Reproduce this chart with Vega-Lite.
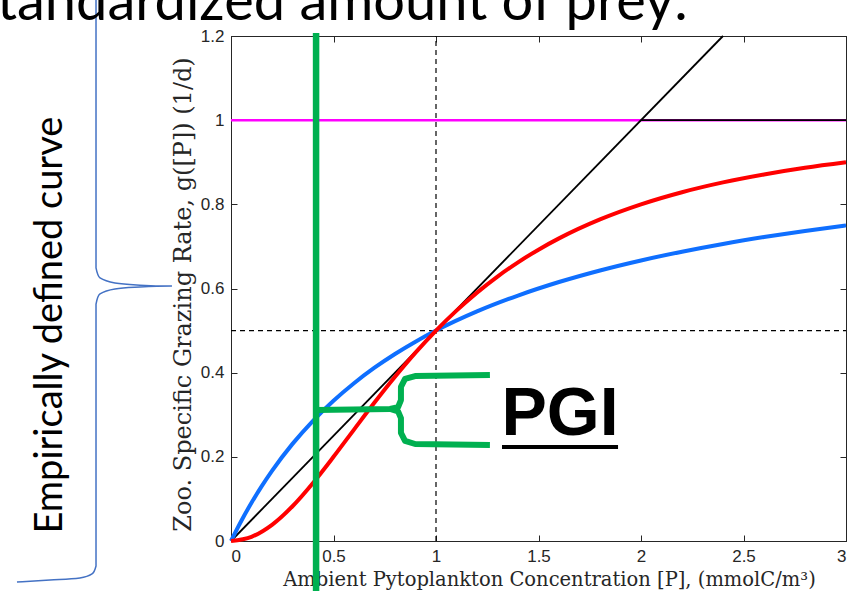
{
  "$schema": "https://vega.github.io/schema/vega-lite/v6.json",
  "width": 615,
  "height": 505,
  "autosize": {"type": "none"},
  "padding": {"left": 231, "top": 36, "right": 12, "bottom": 50},
  "background": "white",
  "config": {
    "view": {"stroke": "#262626", "strokeWidth": 1},
    "axis": {
      "grid": false,
      "domainColor": "#262626",
      "tickColor": "#262626",
      "labelColor": "#262626",
      "labelFont": "Liberation Sans",
      "labelFontSize": 17,
      "tickSize": -6,
      "labelPadding": 13,
      "titleFont": "DejaVu Serif",
      "titleFontWeight": "normal",
      "titleColor": "#262626",
      "titleFontSize": 20
    }
  },
  "resolve": {"axis": {"x": "independent", "y": "independent"}},
  "datasets": {
    "curves": [
      {"s": "mm", "P": 0, "g": 0},
      {"s": "mm", "P": 0.05, "g": 0.0476},
      {"s": "mm", "P": 0.1, "g": 0.0909},
      {"s": "mm", "P": 0.15, "g": 0.1304},
      {"s": "mm", "P": 0.2, "g": 0.1667},
      {"s": "mm", "P": 0.3, "g": 0.2308},
      {"s": "mm", "P": 0.4, "g": 0.2857},
      {"s": "mm", "P": 0.5, "g": 0.3333},
      {"s": "mm", "P": 0.6, "g": 0.375},
      {"s": "mm", "P": 0.7, "g": 0.4118},
      {"s": "mm", "P": 0.8, "g": 0.4444},
      {"s": "mm", "P": 0.9, "g": 0.4737},
      {"s": "mm", "P": 1.0, "g": 0.5},
      {"s": "mm", "P": 1.2, "g": 0.5455},
      {"s": "mm", "P": 1.4, "g": 0.5833},
      {"s": "mm", "P": 1.6, "g": 0.6154},
      {"s": "mm", "P": 1.8, "g": 0.6429},
      {"s": "mm", "P": 2.0, "g": 0.6667},
      {"s": "mm", "P": 2.2, "g": 0.6875},
      {"s": "mm", "P": 2.4, "g": 0.7059},
      {"s": "mm", "P": 2.6, "g": 0.7222},
      {"s": "mm", "P": 2.8, "g": 0.7368},
      {"s": "mm", "P": 3.0, "g": 0.75},
      {"s": "h3", "P": 0, "g": 0},
      {"s": "h3", "P": 0.1, "g": 0.0099},
      {"s": "h3", "P": 0.2, "g": 0.0385},
      {"s": "h3", "P": 0.3, "g": 0.0826},
      {"s": "h3", "P": 0.4, "g": 0.1379},
      {"s": "h3", "P": 0.5, "g": 0.2},
      {"s": "h3", "P": 0.6, "g": 0.2647},
      {"s": "h3", "P": 0.7, "g": 0.3289},
      {"s": "h3", "P": 0.8, "g": 0.3902},
      {"s": "h3", "P": 0.9, "g": 0.4475},
      {"s": "h3", "P": 1.0, "g": 0.5},
      {"s": "h3", "P": 1.1, "g": 0.5475},
      {"s": "h3", "P": 1.2, "g": 0.5902},
      {"s": "h3", "P": 1.3, "g": 0.6283},
      {"s": "h3", "P": 1.4, "g": 0.6622},
      {"s": "h3", "P": 1.5, "g": 0.6923},
      {"s": "h3", "P": 1.6, "g": 0.7191},
      {"s": "h3", "P": 1.8, "g": 0.7642},
      {"s": "h3", "P": 2.0, "g": 0.8},
      {"s": "h3", "P": 2.2, "g": 0.8288},
      {"s": "h3", "P": 2.4, "g": 0.8521},
      {"s": "h3", "P": 2.6, "g": 0.8711},
      {"s": "h3", "P": 2.8, "g": 0.8869},
      {"s": "h3", "P": 3.0, "g": 0.9}
    ],
    "segments": [
      {"k": "dash", "x": 1, "y": 0, "x2": 1, "y2": 1.2},
      {"k": "dash", "x": 0, "y": 0.5, "x2": 3, "y2": 0.5},
      {"k": "mag", "x": 0, "y": 1, "x2": 3, "y2": 1},
      {"k": "sat", "x": 2, "y": 1, "x2": 3, "y2": 1},
      {"k": "lin", "x": 0, "y": 0, "x2": 2.4, "y2": 1.2},
      {"k": "green", "x": 0.415, "y": -0.119, "x2": 0.415, "y2": 1.207},
      {"k": "ul", "x": 1.322, "y": 0.2234, "x2": 1.888, "y2": 0.2234}
    ],
    "braces": [
      {"b": "green", "part": "g1", "i": 0, "x": 1.263, "y": 0.3945},
      {"b": "green", "part": "g1", "i": 1, "x": 0.898, "y": 0.392},
      {"b": "green", "part": "g1", "i": 2, "x": 0.849, "y": 0.385},
      {"b": "green", "part": "g1", "i": 3, "x": 0.829, "y": 0.366},
      {"b": "green", "part": "g1", "i": 4, "x": 0.829, "y": 0.335},
      {"b": "green", "part": "g1", "i": 5, "x": 0.815, "y": 0.318},
      {"b": "green", "part": "g1", "i": 6, "x": 0.776, "y": 0.3137},
      {"b": "green", "part": "g1", "i": 7, "x": 0.415, "y": 0.311},
      {"b": "green", "part": "g2", "i": 0, "x": 0.776, "y": 0.3137},
      {"b": "green", "part": "g2", "i": 1, "x": 0.815, "y": 0.308},
      {"b": "green", "part": "g2", "i": 2, "x": 0.829, "y": 0.292},
      {"b": "green", "part": "g2", "i": 3, "x": 0.829, "y": 0.257},
      {"b": "green", "part": "g2", "i": 4, "x": 0.849, "y": 0.238},
      {"b": "green", "part": "g2", "i": 5, "x": 0.898, "y": 0.2305},
      {"b": "green", "part": "g2", "i": 6, "x": 1.263, "y": 0.228},
      {"b": "blue", "part": "b1", "i": 0, "x": -0.6585, "y": 1.2975},
      {"b": "blue", "part": "b1", "i": 1, "x": -0.6585, "y": 0.6488},
      {"b": "blue", "part": "b1", "i": 2, "x": -0.639, "y": 0.625},
      {"b": "blue", "part": "b1", "i": 3, "x": -0.566, "y": 0.613},
      {"b": "blue", "part": "b1", "i": 4, "x": -0.444, "y": 0.608},
      {"b": "blue", "part": "b1", "i": 5, "x": -0.288, "y": 0.606},
      {"b": "blue", "part": "b1", "i": 6, "x": -0.444, "y": 0.6036},
      {"b": "blue", "part": "b1", "i": 7, "x": -0.566, "y": 0.599},
      {"b": "blue", "part": "b1", "i": 8, "x": -0.639, "y": 0.587},
      {"b": "blue", "part": "b1", "i": 9, "x": -0.6585, "y": 0.563},
      {"b": "blue", "part": "b1", "i": 10, "x": -0.6585, "y": -0.0594},
      {"b": "blue", "part": "b1", "i": 11, "x": -0.678, "y": -0.0784},
      {"b": "blue", "part": "b1", "i": 12, "x": -0.737, "y": -0.0879},
      {"b": "blue", "part": "b1", "i": 13, "x": -0.883, "y": -0.0927},
      {"b": "blue", "part": "b1", "i": 14, "x": -1.044, "y": -0.0974}
    ],
    "labels": [
      {"k": "head", "t": "standardized amount of prey:", "x": 2.229, "y": 1.238},
      {"k": "side", "t": "Empirically defined curve", "x": -0.824, "y": 0.513},
      {"k": "pgi", "t": "PGI", "x": 1.605, "y": 0.252}
    ]
  },
  "layer": [
    {
      "data": {"name": "segments"},
      "transform": [{"filter": "datum.k === 'dash'"}],
      "mark": {"type": "rule", "color": "black", "strokeWidth": 1.2, "strokeDash": [5, 4]},
      "encoding": {
        "x": {"field": "x", "type": "quantitative", "scale": {"domain": [0, 3], "nice": false},
          "axis": {"values": [0, 0.5, 1, 1.5, 2, 2.5, 3], "format": "~g", "labelFontSize": 17, "labelFont": "Liberation Sans", "title": "Ambient Pytoplankton Concentration [P], (mmolC/m³)", "titleFontSize": 19.5, "titleY": 44, "titleX": 318, "titleBaseline": "alphabetic"}},
        "y": {"field": "y", "type": "quantitative", "scale": {"domain": [0, 1.2], "nice": false},
          "axis": {"values": [0, 0.2, 0.4, 0.6, 0.8, 1, 1.2], "format": "~g", "labelFontSize": 17, "labelFont": "Liberation Sans", "title": "Zoo. Specific Grazing Rate, g([P]) (1/d)", "titleFontSize": 24, "titleX": -41, "titleY": 258, "titleBaseline": "alphabetic"}},
        "x2": {"field": "x2"},
        "y2": {"field": "y2"}
      }
    },
    {
      "data": {"name": "segments"},
      "transform": [{"filter": "datum.k === 'mag'"}],
      "mark": {"type": "rule", "color": "#FF00FF", "strokeWidth": 2.5},
      "encoding": {
        "x": {"field": "x", "type": "quantitative", "axis": {"orient": "top", "values": [0, 0.5, 1, 1.5, 2, 2.5, 3], "labels": false, "title": null}},
        "y": {"field": "y", "type": "quantitative", "axis": {"orient": "right", "values": [0, 0.2, 0.4, 0.6, 0.8, 1, 1.2], "labels": false, "title": null}},
        "x2": {"field": "x2"},
        "y2": {"field": "y2"}
      }
    },
    {
      "data": {"name": "segments"},
      "transform": [{"filter": "datum.k === 'sat' || datum.k === 'lin'"}],
      "mark": {"type": "rule", "color": "black", "strokeWidth": 1.8},
      "encoding": {
        "x": {"field": "x", "type": "quantitative", "axis": null},
        "y": {"field": "y", "type": "quantitative", "axis": null},
        "x2": {"field": "x2"},
        "y2": {"field": "y2"}
      }
    },
    {
      "data": {"name": "curves"},
      "transform": [{"filter": "datum.s === 'mm'"}],
      "mark": {"type": "line", "color": "#0F6FFF", "strokeWidth": 4, "interpolate": "monotone"},
      "encoding": {
        "x": {"field": "P", "type": "quantitative", "axis": null},
        "y": {"field": "g", "type": "quantitative", "axis": null}
      }
    },
    {
      "data": {"name": "curves"},
      "transform": [{"filter": "datum.s === 'h3'"}],
      "mark": {"type": "line", "color": "#FF0000", "strokeWidth": 4, "interpolate": "monotone"},
      "encoding": {
        "x": {"field": "P", "type": "quantitative", "axis": null},
        "y": {"field": "g", "type": "quantitative", "axis": null}
      }
    },
    {
      "data": {"name": "segments"},
      "transform": [{"filter": "datum.k === 'green'"}],
      "mark": {"type": "rule", "color": "#00B050", "strokeWidth": 6.5},
      "encoding": {
        "x": {"field": "x", "type": "quantitative", "axis": null},
        "y": {"field": "y", "type": "quantitative", "axis": null},
        "x2": {"field": "x2"},
        "y2": {"field": "y2"}
      }
    },
    {
      "data": {"name": "braces"},
      "transform": [{"filter": "datum.b === 'green'"}],
      "mark": {"type": "line", "color": "#00B050", "strokeWidth": 6, "strokeJoin": "round"},
      "encoding": {
        "x": {"field": "x", "type": "quantitative", "axis": null},
        "y": {"field": "y", "type": "quantitative", "axis": null},
        "detail": {"field": "part"},
        "order": {"field": "i", "type": "quantitative"}
      }
    },
    {
      "data": {"name": "braces"},
      "transform": [{"filter": "datum.b === 'blue'"}],
      "mark": {"type": "line", "color": "#4472C4", "strokeWidth": 1.5, "interpolate": "monotone"},
      "encoding": {
        "x": {"field": "x", "type": "quantitative", "axis": null},
        "y": {"field": "y", "type": "quantitative", "axis": null},
        "detail": {"field": "part"},
        "order": {"field": "i", "type": "quantitative"}
      }
    },
    {
      "data": {"name": "segments"},
      "transform": [{"filter": "datum.k === 'ul'"}],
      "mark": {"type": "rule", "color": "black", "strokeWidth": 4},
      "encoding": {
        "x": {"field": "x", "type": "quantitative", "axis": null},
        "y": {"field": "y", "type": "quantitative", "axis": null},
        "x2": {"field": "x2"},
        "y2": {"field": "y2"}
      }
    },
    {
      "data": {"name": "labels"},
      "transform": [{"filter": "datum.k === 'pgi'"}],
      "mark": {"type": "text", "font": "Liberation Sans", "fontWeight": "bold", "fontSize": 68, "align": "center", "baseline": "alphabetic", "color": "black"},
      "encoding": {
        "x": {"field": "x", "type": "quantitative", "axis": null},
        "y": {"field": "y", "type": "quantitative", "axis": null},
        "text": {"field": "t"}
      }
    },
    {
      "data": {"name": "labels"},
      "transform": [{"filter": "datum.k === 'side'"}],
      "mark": {"type": "text", "font": "Lato", "fontSize": 38, "angle": 270, "align": "center", "baseline": "alphabetic", "color": "black"},
      "encoding": {
        "x": {"field": "x", "type": "quantitative", "axis": null},
        "y": {"field": "y", "type": "quantitative", "axis": null},
        "text": {"field": "t"}
      }
    },
    {
      "data": {"name": "labels"},
      "transform": [{"filter": "datum.k === 'head'"}],
      "mark": {"type": "text", "font": "Lato", "fontSize": 56, "align": "right", "baseline": "alphabetic", "color": "black"},
      "encoding": {
        "x": {"field": "x", "type": "quantitative", "axis": null},
        "y": {"field": "y", "type": "quantitative", "axis": null},
        "text": {"field": "t"}
      }
    }
  ]
}
